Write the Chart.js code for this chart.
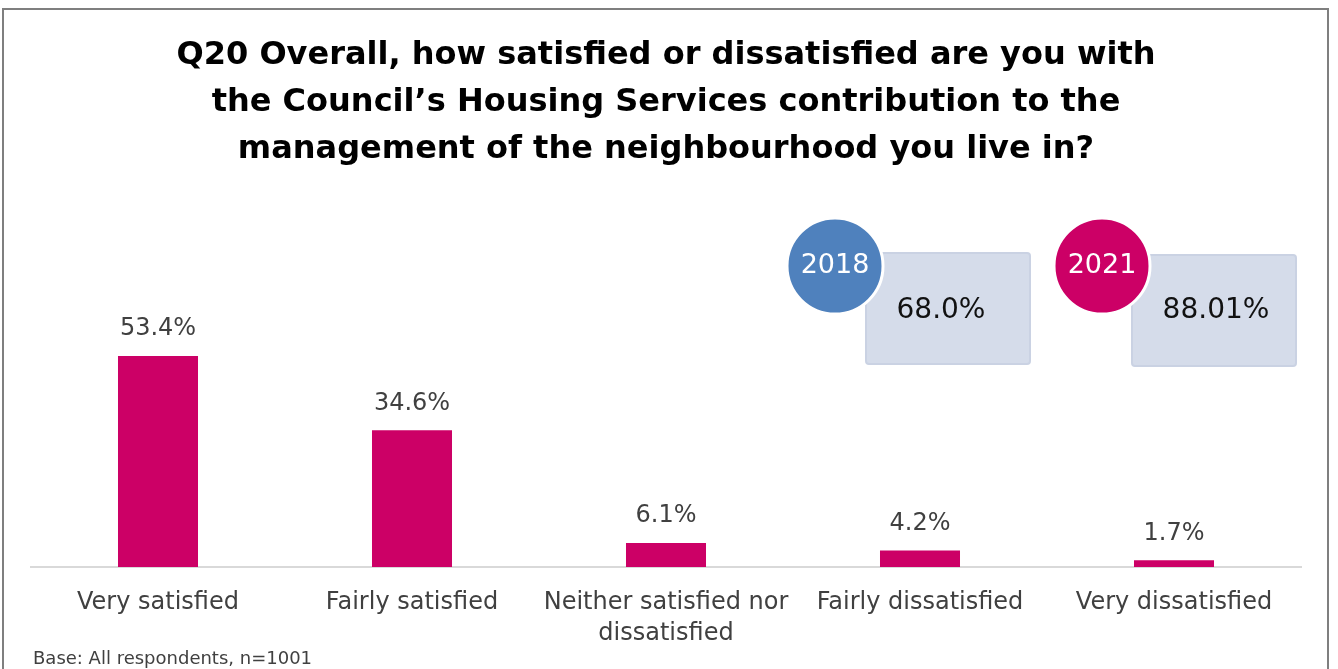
<!DOCTYPE html>
<html>
<head>
<meta charset="utf-8">
<script src="https://cdn.jsdelivr.net/npm/chart.js@4"></script>
<style>
  html, body { margin: 0; padding: 0; background: #fff; }
  #wrap { position: relative; width: 1338px; height: 669px; }
</style>
</head>
<body>
<div id="wrap"><canvas id="chart" width="1338" height="669"></canvas></div>
<script>
const titleLines = [
  "Q20 Overall, how satisfied or dissatisfied are you with",
  "the Council\u2019s Housing Services contribution to the",
  "management of the neighbourhood you live in?",
];
const categories = [
  "Very satisfied",
  "Fairly satisfied",
  ["Neither satisfied nor", "dissatisfied"],
  "Fairly dissatisfied",
  "Very dissatisfied",
];
const values2021 = [53.4, 34.6, 6.1, 4.2, 1.7];
const summaryYears = ["2018", "2021"];
const summaryScores = ["68.0%", "88.01%"];
const footnote = "Base: All respondents, n=1001";

const MAGENTA = "#CC0066";
const BLUE = "#4F81BD";
const FONT = "'DejaVu Sans', sans-serif";

// frame + footnote + the two summary badges
const decorPlugin = {
  id: "decor",
  beforeDraw: (chart) => {
    const ctx = chart.ctx;
    ctx.save();
    ctx.fillStyle = "#fff";
    ctx.fillRect(0, 0, chart.width, chart.height);
    ctx.strokeStyle = "#7f7f7f";
    ctx.lineWidth = 2;
    ctx.strokeRect(3, 9, 1325, 720);
    ctx.restore();
  },
  afterDraw: (chart) => {
    const ctx = chart.ctx;
    ctx.save();
    ctx.fillStyle = "#404040";
    ctx.font = "18px " + FONT;
    ctx.textAlign = "left";
    ctx.textBaseline = "middle";
    ctx.fillText(footnote, 33, 659);

    const badges = [
      { cx: 835, box: [866, 253, 164, 111], color: BLUE },
      { cx: 1102, box: [1132, 255, 164, 111], color: MAGENTA },
    ];
    badges.forEach((b, i) => {
      const [bx, by, bw, bh] = b.box;
      ctx.fillStyle = "#D5DCEA";
      ctx.strokeStyle = "#CAD2E3";
      ctx.lineWidth = 2;
      ctx.beginPath();
      ctx.roundRect(bx, by, bw, bh, 3);
      ctx.fill();
      ctx.stroke();
      ctx.fillStyle = "#111";
      ctx.font = "28px " + FONT;
      ctx.textAlign = "center";
      ctx.fillText(summaryScores[i], bx + bw / 2 + (i === 0 ? -7 : 2), 311);

      ctx.beginPath();
      ctx.arc(b.cx, 266, 48, 0, Math.PI * 2);
      ctx.fillStyle = b.color;
      ctx.fill();
      ctx.strokeStyle = "#fff";
      ctx.lineWidth = 3;
      ctx.stroke();
      ctx.fillStyle = "#fff";
      ctx.font = "27px " + FONT;
      ctx.fillText(summaryYears[i], b.cx, 266);
    });
    ctx.restore();
  },
};

// value labels above bars
const valueLabels = {
  id: "valueLabels",
  afterDatasetsDraw: (chart) => {
    const ctx = chart.ctx;
    const meta = chart.getDatasetMeta(0);
    ctx.save();
    ctx.fillStyle = "#404040";
    ctx.font = "24px " + FONT;
    ctx.textAlign = "center";
    ctx.textBaseline = "middle";
    meta.data.forEach((bar, i) => {
      ctx.fillText(values2021[i].toFixed(1) + "%", bar.x, bar.y - 27);
    });
    ctx.restore();
  },
};

new Chart(document.getElementById("chart"), {
  type: "bar",
  data: {
    labels: categories,
    datasets: [
      {
        label: "2021",
        data: values2021,
        backgroundColor: MAGENTA,
        categoryPercentage: 1,
        barPercentage: 0.315,
      },
    ],
  },
  options: {
    responsive: false,
    animation: false,
    layout: {
      padding: { left: 31, right: 37, top: 0, bottom: 0 },
    },
    plugins: {
      legend: { display: false },
      tooltip: { enabled: false },
      title: {
        display: true,
        text: titleLines,
        color: "#000",
        font: { family: FONT, size: 32, weight: "bold", lineHeight: 47 / 32 },
        padding: { top: 32, bottom: 157 },
      },
    },
    scales: {
      x: {
        grid: { display: false, drawTicks: false },
        border: { display: true, color: "#D9D9D9", width: 2 },
        ticks: {
          color: "#404040",
          padding: 20,
          maxRotation: 0,
          autoSkip: false,
          font: { family: FONT, size: 24, lineHeight: 31 / 24 },
        },
      },
      y: {
        display: false,
        min: 0,
        max: 60,
      },
    },
  },
  plugins: [decorPlugin, valueLabels],
});
</script>
</body>
</html>
